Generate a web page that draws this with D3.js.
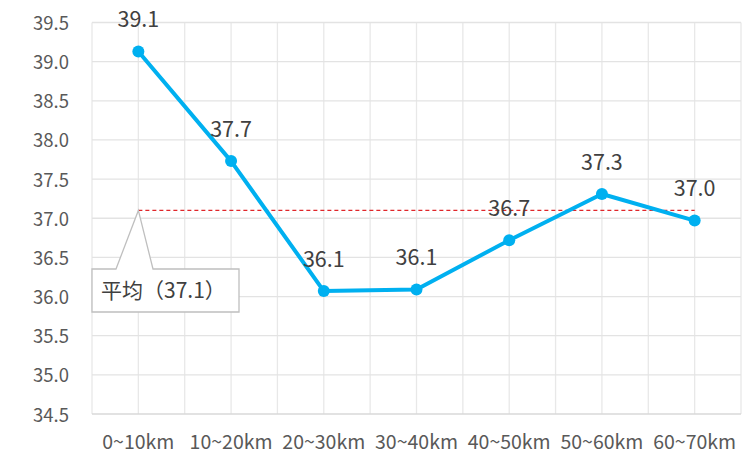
<!DOCTYPE html>
<html><head><meta charset="utf-8">
<script src="https://cdn.jsdelivr.net/npm/d3@7"></script>
<style>body{margin:0;background:#fff}svg{display:block}</style>
</head><body><svg id="c" width="747" height="454"></svg>
<script>
const categories = ["0~10km","10~20km","20~30km","30~40km","40~50km","50~60km","60~70km"];
const values = [39.13, 37.73, 36.07, 36.09, 36.72, 37.31, 36.97];
const labels = ["39.1","37.7","36.1","36.1","36.7","37.3","37.0"];
const yTicks = [34.5,35.0,35.5,36.0,36.5,37.0,37.5,38.0,38.5,39.0,39.5];
const average = 37.10;
const averageLabel = "平均（37.1）";

const font = "'Noto Sans CJK SC','Noto Sans',sans-serif";
const svg = d3.select("#c");
const L = 92, R = 741, T = 22.5, B = 414;
const x = d3.scaleBand().domain(categories).range([L, R]).padding(0);
const y = d3.scaleLinear().domain([34.5, 39.5]).range([B, T]);
const cx = d => x(d) + x.bandwidth()/2;

// vertical gridlines at boundaries and centers
const vlines = [];
categories.forEach(c => { vlines.push(x(c)); vlines.push(cx(c)); });
vlines.push(R);
svg.append("g").selectAll("line").data(vlines).join("line")
  .attr("x1", d=>d).attr("x2", d=>d).attr("y1", T).attr("y2", B)
  .attr("stroke", "#e8e8e8").attr("stroke-width", 1.3);
svg.append("g").selectAll("line").data(yTicks.slice(1)).join("line")
  .attr("x1", L).attr("x2", R).attr("y1", d=>y(d)).attr("y2", d=>y(d))
  .attr("stroke", "#e3e3e3").attr("stroke-width", 1.3);
svg.append("line").attr("x1", L).attr("x2", R).attr("y1", B).attr("y2", B)
  .attr("stroke", "#d9d9d9").attr("stroke-width", 1.6);

// y axis labels
const yAxis = d3.axisLeft(y).tickValues(yTicks).tickFormat(d3.format(".1f")).tickSize(0).tickPadding(0);
const ya = svg.append("g").attr("transform", `translate(${L-23},0)`).call(yAxis);
ya.select(".domain").remove();
ya.selectAll("text").attr("fill", "#595959").style("font-family", font).style("font-size", "18.5px").attr("dy", "0.38em");

// x axis labels
const xAxis = d3.axisBottom(x).tickSize(0).tickPadding(0);
const xa = svg.append("g").attr("transform", `translate(0,${B+28})`).call(xAxis);
xa.select(".domain").remove();
xa.selectAll("text").attr("fill", "#595959").style("font-family", font).style("font-size", "19.5px").attr("dy", "0.35em");

// average line
svg.append("line").attr("x1", cx(categories[0])).attr("x2", cx(categories[categories.length-1]))
  .attr("y1", y(average)).attr("y2", y(average))
  .attr("stroke", "#e0262a").attr("stroke-width", 1.3).attr("stroke-dasharray", "4,3");

// series line
const line = d3.line().x((d,i)=>cx(categories[i])).y(d=>y(d));
svg.append("path").datum(values).attr("d", line).attr("fill", "none")
  .attr("stroke", "#00b0f0").attr("stroke-width", 4).attr("stroke-linejoin", "round");
svg.append("g").selectAll("circle").data(values).join("circle")
  .attr("cx", (d,i)=>cx(categories[i])).attr("cy", d=>y(d)).attr("r", 6).attr("fill", "#00b0f0");

// data labels
svg.append("g").selectAll("text").data(values).join("text")
  .attr("x", (d,i)=>cx(categories[i])).attr("y", d=>y(d)-32).attr("dy", "0.35em")
  .attr("text-anchor", "middle").attr("fill", "#404040")
  .style("font-family", font).style("font-size", "21.5px").text((d,i)=>labels[i]);

// callout
const tipX = cx(categories[0]), tipY = y(average);
const bx0 = 92, bx1 = 239, by0 = 269, by1 = 312;
const path = `M${bx0},${by0} L116,${by0} L${tipX},${tipY} L153,${by0} L${bx1},${by0} L${bx1},${by1} L${bx0},${by1} Z`;
svg.append("path").attr("d", path).attr("fill", "#fff").attr("stroke", "#bfbfbf").attr("stroke-width", 1.3);
svg.append("text").attr("x", 101).attr("y", (by0+by1)/2).attr("dy", "0.36em")
  .attr("fill", "#404040").style("font-family", font).style("font-size", "21px").text(averageLabel);
</script></body></html>
